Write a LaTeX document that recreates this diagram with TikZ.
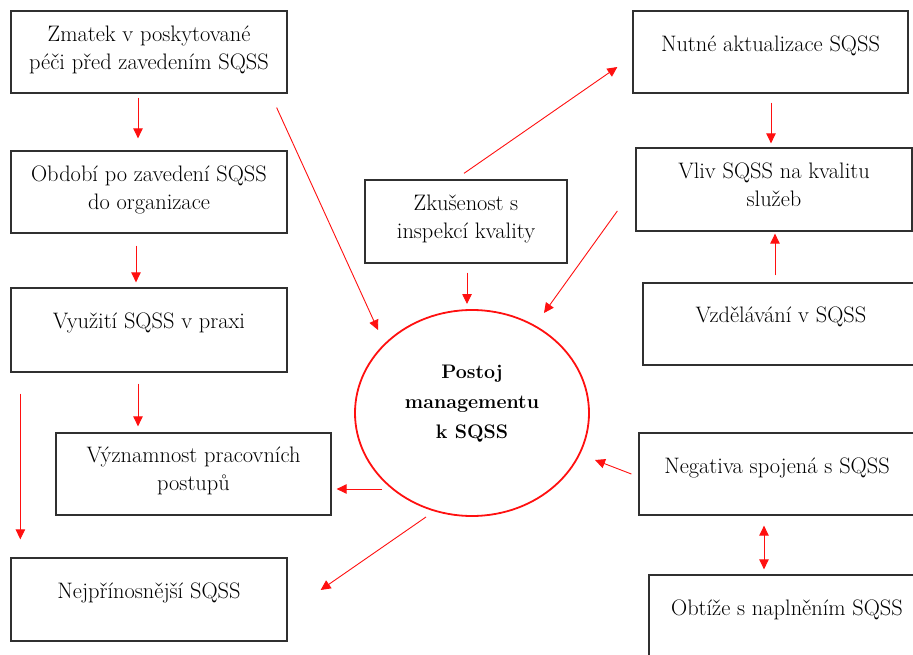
\documentclass[tikz,border=0pt]{standalone}
\usepackage{fontspec}
\usetikzlibrary{arrows.meta,shapes.geometric}

\definecolor{boxline}{HTML}{303030}
\definecolor{flow}{HTML}{FF1010}

\tikzset{
  box/.style={draw=boxline, line width=1.3pt, rectangle, inner sep=0pt,
              minimum width=276pt, minimum height=82pt},
  txt/.style={font=\fontsize{22.4}{28.5}\selectfont, align=center, inner sep=0pt,
              anchor=north, execute at begin node=\strut},
  ctxt/.style={font=\fontsize{19.6}{30}\selectfont\bfseries, align=center, inner sep=0pt,
              anchor=north, execute at begin node=\strut},
  hub/.style={draw=flow, line width=1.8pt, ellipse, inner sep=0pt,
              minimum width=234pt, minimum height=206pt},
  flowarrow/.style={draw=flow, line width=0.9pt,
              -{Triangle[length=10pt,width=9.5pt]}},
  flowboth/.style={draw=flow, line width=0.9pt,
              {Triangle[length=10pt,width=9.5pt]}-{Triangle[length=10pt,width=9.5pt]}},
}

\begin{document}
\begin{tikzpicture}[x=1pt, y=-1pt]
\useasboundingbox (0,0) rectangle (913,655);
\clip (0,0) rectangle (913,655);

% left column
\node[box] (b1) at (149,52) {};
\node[txt] (t1) at ([shift={(0,15)}]b1.north) {Zmatek v poskytované\\péči před zavedením SQSS};
\node[box] (b2) at (149,192) {};
\node[txt] (t2) at ([shift={(0,15)}]b2.north) {Období po zavedení SQSS\\do organizace};
\node[box, minimum height=84pt] (b3) at (149,330) {};
\node[txt] (t3) at ([shift={(0,21)}]b3.north) {Využití SQSS v praxi};
\node[box, minimum width=275pt] (b4) at (193.5,474) {};
\node[txt] (t4) at ([shift={(0,14)}]b4.north) {Významnost pracovních\\postupů};
\node[box, minimum height=83pt] (b5) at (149,599.5) {};
\node[txt] (t5) at ([shift={(0,21)}]b5.north) {Nejpřínosnější SQSS};

% middle
\node[box, minimum width=202pt, minimum height=83pt] (b6) at (466,221.5) {};
\node[txt] (t6) at ([shift={(0,15)}]b6.north) {Zkušenost s\\inspekcí kvality};
\node[hub] (c) at (472,413) {};
\node[ctxt] (ct) at ([shift={(0,-48)}]c.center) {Postoj\\managementu\\k SQSS};

% right column
\node[box, minimum width=275pt] (b7) at (770.5,52) {};
\node[txt] (t7) at ([shift={(0,21)}]b7.north) {Nutné aktualizace SQSS};
\node[box, minimum height=83pt] (b8) at (774,189.5) {};
\node[txt] (t8) at ([shift={(0,15)}]b8.north) {Vliv SQSS na kvalitu\\služeb};
\node[box] (b9) at (781,324) {};
\node[txt] (t9) at ([shift={(0,20)}]b9.north) {Vzdělávání v SQSS};
\node[box] (b10) at (777,474) {};
\node[txt] (t10) at ([shift={(0,21)}]b10.north) {Negativa spojená s SQSS};
\node[box] (b11) at (787,616) {};
\node[txt] (t11) at ([shift={(0,21)}]b11.north) {Obtíže s naplněním SQSS};

% connectors
\draw[flowarrow] ([shift={(-11,4)}]b1.south) -- ([shift={(-11,-12)}]b2.north);
\draw[flowarrow] ([shift={(-13,12)}]b2.south) -- ([shift={(-13,-5)}]b3.north);
\draw[flowarrow] ([shift={(-11,11)}]b3.south) -- ([shift={(-55.5,-6)}]b4.north);
\draw[flowarrow] ([shift={(10,21)}]b3.south west) -- ([shift={(10,-18)}]b5.north west);
\draw[flowarrow] ([shift={(-11,14)}]b1.south east) -- ([shift={(-94,-83)}]c.center);
\draw[flowarrow] ([shift={(1,9)}]b6.south) -- ([shift={(-5,-109)}]c.center);
\draw[flowarrow] ([shift={(-2,-6)}]b6.north) -- ([shift={(-15,15)}]b7.west);
\draw[flowarrow] ([shift={(0.5,9)}]b7.south) -- ([shift={(-3,-4)}]b8.north);
\draw[flowarrow] ([shift={(-18,21.5)}]b8.west) -- ([shift={(72,-100)}]c.center);
\draw[flowarrow] ([shift={(-6,-7)}]b9.north) -- ([shift={(1,2)}]b8.south);
\draw[flowarrow] ([shift={(-7,0)}]b10.west) -- ([shift={(123,47)}]c.center);
\draw[flowarrow] ([shift={(-90,76)}]c.center) -- ([shift={(5,15)}]b4.east);
\draw[flowarrow] ([shift={(-46,104)}]c.center) -- ([shift={(33,-9.5)}]b5.east);
\draw[flowboth] ([shift={(-13,10)}]b10.south) -- ([shift={(-23,-5)}]b11.north);
\end{tikzpicture}
\end{document}
